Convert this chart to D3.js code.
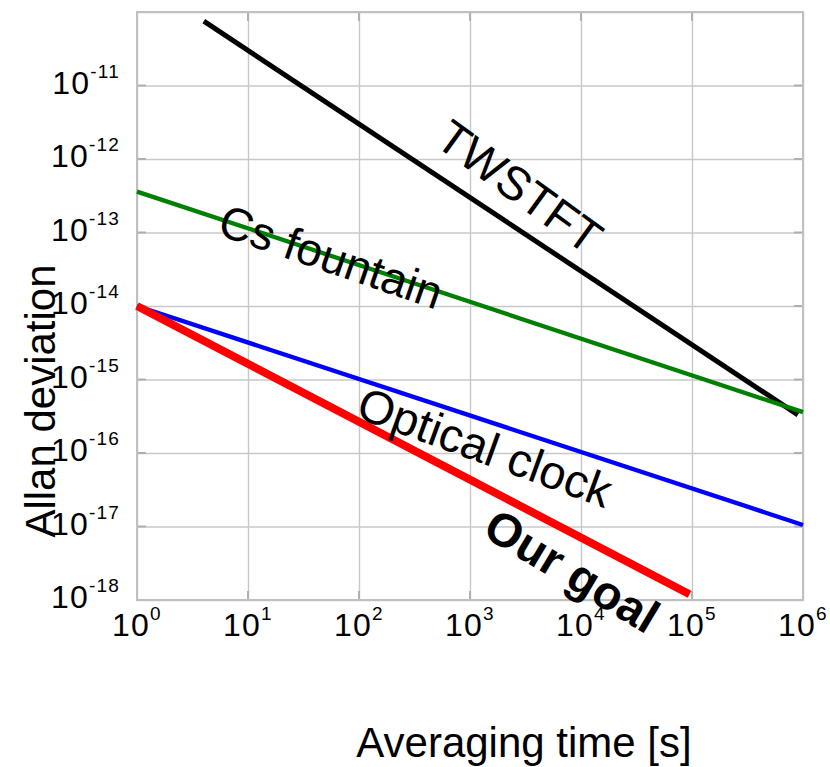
<!DOCTYPE html>
<html>
<head>
<meta charset="utf-8">
<script src="https://cdn.jsdelivr.net/npm/d3@7"></script>
<style>
    body { margin: 0; background: #fff; }
    text { font-family: Arial, "Liberation Sans", sans-serif; fill: #000; }
</style>
</head>
<body>
<svg id="chart" width="830" height="767"></svg>
<script>
// decades shown on each axis
var xExponents = [ 0, 1, 2, 3, 4, 5, 6 ];
var yExponents = [ -18, -17, -16, -15, -14, -13, -12, -11 ];

// [ averaging time (s), Allan deviation ]
var twstft = [ [ 4, 7.5e-11 ], [ 9e5, 3.3e-16 ] ];
var csFountain = [ [ 1, 3.6e-13 ], [ 1e6, 3.6e-16 ] ];
var opticalClock = [ [ 1, 1e-14 ], [ 1e6, 1.05e-17 ] ];
var ourGoal = [ [ 1, 1e-14 ], [ 9.5e4, 1.2e-18 ] ];

var seriesNames = [ "TWSTFT", "Cs fountain", "Optical clock", "Our goal" ];
// where each label sits, in data coordinates
var labelTau = [ 2.8e3, 56, 1365, 8300 ];
var labelSigma = [ 4.2e-13, 4.7e-14, 1.2e-16, 2.5e-18 ];

(function () {
    var margin = { top: 12, left: 137 };
    var width = 666, height = 588;

    var svg = d3.select( "#chart" );
    var g = svg.append( "g" )
        .attr( "transform", "translate(" + margin.left + "," + margin.top + ")" );

    var x = d3.scaleLog().domain( [ 1, 1e6 ] ).range( [ 0, width ] );
    var y = d3.scaleLog().domain( [ 1e-18, 1e-10 ] ).range( [ height, 0 ] );

    var xTicks = xExponents.map( function ( e ) { return Math.pow( 10, e ) } );
    var yTicks = yExponents.concat( [ -10 ] ).map( function ( e ) { return Math.pow( 10, e ) } );

    // grid lines, drawn with the axes
    g.append( "g" )
        .attr( "class", "grid" )
        .call( d3.axisBottom( x ).tickValues( xTicks ).tickSize( height ).tickFormat( "" ) )
        .call( function ( s ) { s.select( ".domain" ).remove() } );
    g.append( "g" )
        .attr( "class", "grid" )
        .call( d3.axisLeft( y ).tickValues( yTicks ).tickSize( -width ).tickFormat( "" ) )
        .call( function ( s ) { s.select( ".domain" ).remove() } );
    g.selectAll( ".grid line" )
        .attr( "stroke", "#c8c8c8" )
        .attr( "stroke-width", 1.4 );

    // short inner tick marks on all four sides
    var tk = 9;
    var ticks = g.append( "g" ).attr( "stroke", "#b0b0b0" ).attr( "stroke-width", 2 );
    xTicks.forEach( function ( v ) {
        ticks.append( "line" ).attr( "x1", x( v ) ).attr( "x2", x( v ) ).attr( "y1", height ).attr( "y2", height - tk );
        ticks.append( "line" ).attr( "x1", x( v ) ).attr( "x2", x( v ) ).attr( "y1", 0 ).attr( "y2", tk );
    });
    yTicks.forEach( function ( v ) {
        ticks.append( "line" ).attr( "y1", y( v ) ).attr( "y2", y( v ) ).attr( "x1", 0 ).attr( "x2", tk );
        ticks.append( "line" ).attr( "y1", y( v ) ).attr( "y2", y( v ) ).attr( "x1", width ).attr( "x2", width - tk );
    });

    // frame
    g.append( "rect" )
        .attr( "width", width )
        .attr( "height", height )
        .attr( "fill", "none" )
        .attr( "stroke", "#c0c0c0" )
        .attr( "stroke-width", 2 );

    // series
    var line = d3.line()
        .x( function ( d ) { return x( d[ 0 ] ) } )
        .y( function ( d ) { return y( d[ 1 ] ) } );
    var series = [
        { data: twstft, color: "#000000", w: 5 },
        { data: csFountain, color: "#008000", w: 4.3 },
        { data: opticalClock, color: "#0000ff", w: 4.3 },
        { data: ourGoal, color: "#ff0000", w: 8 }
    ];
    g.selectAll( "path.series" )
        .data( series )
        .enter().append( "path" )
        .attr( "class", "series" )
        .attr( "d", function ( d ) { return line( d.data ) } )
        .attr( "fill", "none" )
        .attr( "stroke", function ( d ) { return d.color } )
        .attr( "stroke-width", function ( d ) { return d.w } );

    // series labels along the lines
    var labelStyle = [
        { angle: 36, size: 47, weight: "normal" },
        { angle: 19, size: 46, weight: "normal" },
        { angle: 20, size: 47, weight: "normal" },
        { angle: 31, size: 47, weight: "bold" }
    ];
    seriesNames.forEach( function ( name, i ) {
        var st = labelStyle[ i ];
        g.append( "text" )
            .attr( "transform", "translate(" + x( labelTau[ i ] ) + "," + y( labelSigma[ i ] ) + ") rotate(" + st.angle + ")" )
            .attr( "text-anchor", "middle" )
            .attr( "dy", "0.35em" )
            .style( "font-size", st.size + "px" )
            .style( "font-weight", st.weight )
            .text( name );
    });

    // tick labels as 10 with a superscript exponent
    function powerLabel( sel ) {
        sel.append( "tspan" ).text( "10" );
        sel.append( "tspan" )
            .attr( "dy", -16 )
            .style( "font-size", "19px" )
            .text( function ( d ) { return d } );
    }

    g.selectAll( "text.ylab" )
        .data( yExponents )
        .enter().append( "text" )
        .attr( "class", "ylab" )
        .attr( "x", -17 )
        .attr( "y", function ( d ) { return y( Math.pow( 10, d ) ) + 8 } )
        .attr( "text-anchor", "end" )
        .style( "font-size", "32px" )
        .style( "letter-spacing", "1.2px" )
        .call( powerLabel );

    g.selectAll( "text.xlab" )
        .data( xExponents )
        .enter().append( "text" )
        .attr( "class", "xlab" )
        .attr( "x", function ( d ) { return x( Math.pow( 10, d ) ) } )
        .attr( "y", height + 36 )
        .attr( "text-anchor", "middle" )
        .style( "font-size", "32px" )
        .style( "letter-spacing", "1.2px" )
        .call( powerLabel );

    // axis titles
    svg.append( "text" )
        .attr( "x", 524 )
        .attr( "y", 757 )
        .attr( "text-anchor", "middle" )
        .style( "font-size", "42px" )
        .text( "Averaging time [s]" );

    svg.append( "text" )
        .attr( "transform", "translate(55,401) rotate(-90)" )
        .attr( "text-anchor", "middle" )
        .style( "font-size", "42px" )
        .text( "Allan deviation" );
})();
</script>
</body>
</html>
